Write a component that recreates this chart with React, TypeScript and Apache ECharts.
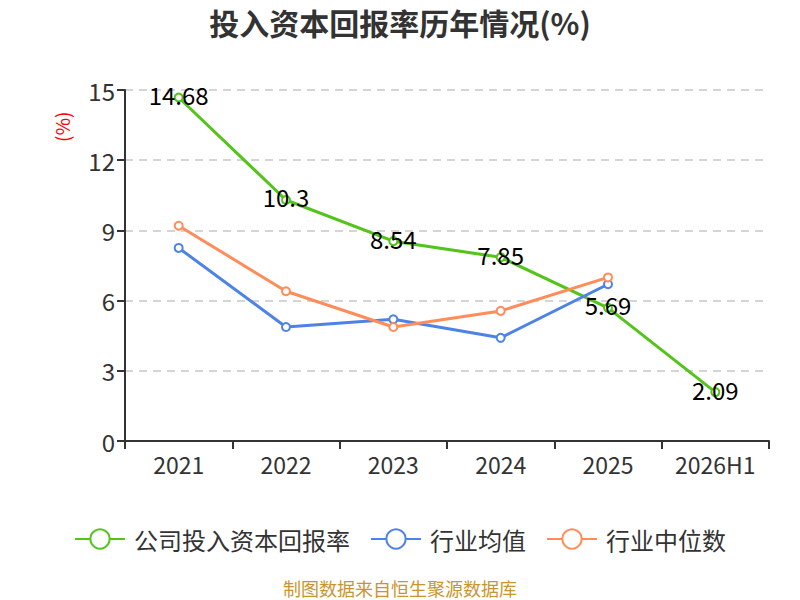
import { useEffect, useRef } from 'react';
import * as echarts from 'echarts';

const categories = ['2021', '2022', '2023', '2024', '2025', '2026H1'];
const companyRoic = [14.68, 10.3, 8.54, 7.85, 5.69, 2.09];
const industryAvg = [8.25, 4.87, 5.2, 4.41, 6.7, null];
const industryMedian = [9.2, 6.4, 4.87, 5.56, 6.99, null];
const yTicks = { min: 0, max: 15, interval: 3 };

const FONT = '"Noto Sans CJK SC", "Noto Sans", sans-serif';

export default function App() {
  const chartRef = useRef<HTMLDivElement>(null);

  useEffect(() => {
    if (!chartRef.current) return;
    const chart = echarts.init(chartRef.current, null, { renderer: 'svg' });

    const green = '#52c41a';
    const blue = '#4e83e6';
    const orange = '#ff8d5a';

    const lineSeries = (name: string, data: (number | null)[], color: string, showLabel: boolean) => ({
      name,
      type: 'line' as const,
      data,
      symbol: 'emptyCircle',
      symbolSize: 8,
      itemStyle: { color, borderWidth: 2 },
      lineStyle: { color, width: 3 },
      label: showLabel
        ? {
            show: true,
            position: 'inside' as const,
            offset: [0, -3],
            color: '#000',
            fontSize: 24,
            fontFamily: FONT,
          }
        : { show: false },
    });

    const option: echarts.EChartsOption = {
      animation: false,
      textStyle: { fontFamily: FONT },
      title: {
        text: '投入资本回报率历年情况(%)',
        left: 'center',
        top: 2,
        textStyle: { fontSize: 30, fontWeight: 'bold', color: '#333', fontFamily: FONT },
      },
      grid: { left: 125, right: 31, top: 90, bottom: 159 },
      legend: {
        top: 522,
        left: 'center',
        itemWidth: 50,
        itemHeight: 24,
        itemGap: 20,
        textStyle: { fontSize: 24, color: '#333', fontFamily: FONT, padding: [0, 0, 0, 4] },
        data: ['公司投入资本回报率', '行业均值', '行业中位数'],
      },
      xAxis: {
        type: 'category',
        data: categories,
        axisLine: { lineStyle: { color: '#333', width: 2 } },
        axisTick: { show: true, interval: 0, length: 8, lineStyle: { color: '#333', width: 2 } },
        axisLabel: { color: '#333', fontSize: 23, margin: 11, interval: 0, fontFamily: FONT },
      },
      yAxis: {
        type: 'value',
        min: yTicks.min,
        max: yTicks.max,
        interval: yTicks.interval,
        axisLine: { show: true, lineStyle: { color: '#333', width: 2 } },
        axisTick: { show: true, length: 8, lineStyle: { color: '#333', width: 2 } },
        axisLabel: { color: '#333', fontSize: 24, margin: 10, fontFamily: FONT },
        splitLine: { lineStyle: { color: '#c8c8c8', type: [8, 6], width: 1.5 } },
      },
      graphic: [
        {
          type: 'text',
          x: 52,
          y: 142,
          rotation: Math.PI / 2,
          style: { text: '(%)', fill: '#ff0000', fontSize: 19, fontFamily: FONT },
        },
        {
          type: 'text',
          left: 'center',
          top: 579,
          style: { text: '制图数据来自恒生聚源数据库', fill: '#c9952e', fontSize: 18, fontFamily: FONT },
        },
      ],
      series: [
        lineSeries('公司投入资本回报率', companyRoic, green, true),
        lineSeries('行业均值', industryAvg, blue, false),
        lineSeries('行业中位数', industryMedian, orange, false),
      ],
    };

    chart.setOption(option);
    return () => chart.dispose();
  }, []);

  return (
    <div
      ref={chartRef}
      style={{ position: 'fixed', left: 0, top: 0, width: 800, height: 600, background: '#fff' }}
    />
  );
}
